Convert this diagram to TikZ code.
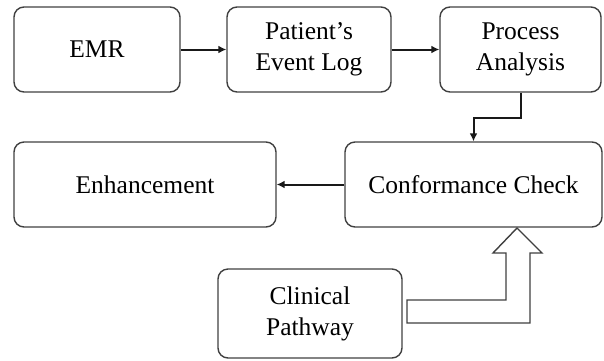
\documentclass[tikz,border=0pt]{standalone}
\usepackage{fontspec}
\newfontfamily\tnrfont{Liberation Serif}
\usetikzlibrary{arrows.meta}
\begin{document}
\begin{tikzpicture}[x=1pt,y=-1pt,
  box/.style={draw=black!75, line width=1.4pt, rounded corners=10pt, align=center,
    font=\tnrfont\fontsize{25.5}{31}\selectfont, text=black, inner sep=0pt, minimum height=85pt},
  conn/.style={draw=black!90, line width=2pt, -{Latex[length=8pt,width=8pt]}},
  blockarrow/.style={draw=black!75, line width=1.4pt, fill=white, line join=miter}]
\useasboundingbox (0,0) rectangle (604,360);
\node[box, minimum width=166pt] (emr) at (97,49.5) {EMR};
\node[box, minimum width=164pt] (log) at (309,49.5) {Patient’s\\Event Log};
\node[box, minimum width=161pt] (proc) at (520.5,49.5) {Process\\Analysis};
\node[box, minimum width=262pt] (enh) at (145,184.5) {Enhancement};
\node[box, minimum width=257pt] (conf) at (473.5,184.5) {Conformance Check};
\node[box, minimum width=184pt, minimum height=89pt] (clin) at (310,313.5) {Clinical\\Pathway};
\draw[conn] (emr) -- (log);
\draw[conn] (log) -- (proc);
\draw[conn] (proc.south) -- ++(0,25) -| (conf.north);
\draw[conn] (conf) -- (enh);
\coordinate (tip) at (517,228);
\draw[blockarrow] (407,300) -- (506,300) -- (506,253) -- (493,253) -- (tip)
  -- (542,253) -- (530,253) -- (530,323) -- (407,323) -- cycle;
\end{tikzpicture}
\end{document}
